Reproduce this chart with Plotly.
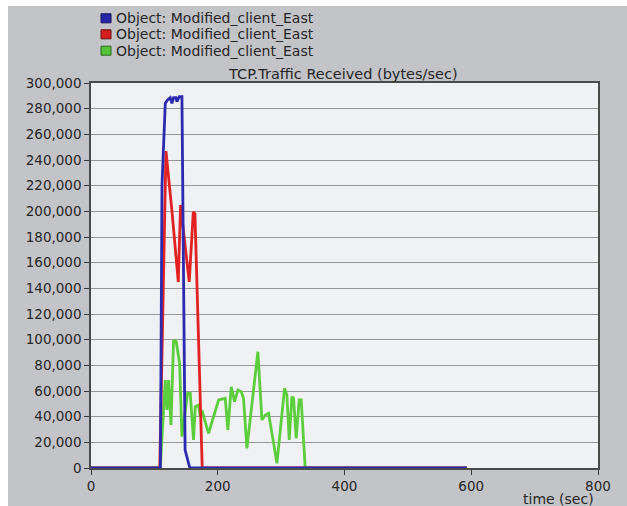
import plotly.graph_objects as go

# Throughput samples: time (sec) and TCP traffic received (bytes/sec)
blue_t = [0, 109.5, 112, 117.2, 120.8, 125, 127.7, 130.3, 134, 135.6, 139.3, 143.5, 148.5, 156, 593]
blue_v = [0, 0, 220000, 284200, 286800, 288500, 284200, 288500, 288500, 285400, 289300, 289300, 14000, 0, 0]

red_t = [0, 108.5, 118.3, 127.8, 137.7, 141.3, 155, 161.4, 164, 175.5, 593]
red_v = [0, 0, 247000, 200000, 145000, 205000, 145000, 199500, 198000, 0, 0]

green_t = [0, 109.3, 117.2, 119.9, 122.4, 126.2, 130.3, 134.5, 139.8, 143.5, 152.4, 156.6,
           161.8, 164.5, 169.7, 172.4, 175, 185.5, 201.3, 211.8, 216, 221.3, 226.5, 231.9,
           237, 240.7, 246, 263.3, 269.7, 275, 280.2, 293.4, 305.4, 309.1, 312.8, 317,
           319.6, 323.8, 328.5, 331.7, 338, 593]
green_v = [0, 0, 68600, 45200, 68600, 33500, 99700, 98400, 81600, 24400, 58200, 58200,
           21800, 47800, 49000, 40000, 45000, 27000, 53000, 54300, 29600, 63300, 51700, 60800,
           59500, 54300, 15300, 90600, 37400, 41300, 42600, 3700, 62100, 56900, 21800, 55600,
           54300, 23100, 53000, 53000, 0, 0]

series_names = ["Object: Modified_client_East"] * 3
series_colors = ["#2b2bb0", "#e02222", "#5ccd3c"]
legend_fill = ["#2626a8", "#d41f1f", "#55c23c"]
legend_edge = ["#10105a", "#6a0f0f", "#2a6a1c"]

x_ticks = [0, 200, 400, 600, 800]
chart_title = "TCP.Traffic Received (bytes/sec)"
x_title = "time (sec)"

W, H = 627, 506
L, R, T, B = 91, 29, 83, 38
PW, PH = W - L - R, H - T - B


def px(xp):
    return (xp - L) / PW


def py(yp):
    return (H - B - yp) / PH


FONT = "DejaVu Sans"
TXT = "#262626"

fig = go.Figure()
# green first, blue last so the blue baseline sits on top
for t, v, c, n in [(green_t, green_v, series_colors[2], series_names[2]),
                   (red_t, red_v, series_colors[1], series_names[1]),
                   (blue_t, blue_v, series_colors[0], series_names[0])]:
    fig.add_trace(go.Scatter(x=t, y=v, mode="lines", name=n,
                             line=dict(color=c, width=2.8), showlegend=False))

shapes = [
    # white strips along the top and left edges
    dict(type="rect", xref="paper", yref="paper", x0=px(0), x1=px(W), y0=py(0), y1=py(6),
         fillcolor="white", line=dict(width=0), layer="below"),
    dict(type="rect", xref="paper", yref="paper", x0=px(0), x1=px(8), y0=py(0), y1=py(H),
         fillcolor="white", line=dict(width=0), layer="below"),
]
annotations = []
rows = [18.3, 34.3, 50.7]
for i, yc in enumerate(rows):
    shapes.append(dict(type="rect", xref="paper", yref="paper",
                       x0=px(101), x1=px(111), y0=py(yc - 4.5), y1=py(yc + 4.5),
                       fillcolor=legend_fill[i], line=dict(color=legend_edge[i], width=1)))
    annotations.append(dict(x=px(114), y=py(yc), xref="paper", yref="paper",
                            text=series_names[i], showarrow=False, xanchor="left",
                            yanchor="middle", font=dict(family=FONT, size=14, color=TXT)))

annotations.append(dict(x=px(343), y=py(74), xref="paper", yref="paper", text=chart_title,
                        showarrow=False, xanchor="center", yanchor="middle",
                        font=dict(family=FONT, size=14.5, color=TXT)))
annotations.append(dict(x=px(558), y=py(499), xref="paper", yref="paper", text=x_title,
                        showarrow=False, xanchor="center", yanchor="middle",
                        font=dict(family=FONT, size=14, color=TXT)))

fig.update_layout(
    width=W, height=H,
    margin=dict(l=L, r=R, t=T, b=B, pad=0),
    paper_bgcolor="#c3c4c8",
    plot_bgcolor="#f0f1f4",
    shapes=shapes,
    annotations=annotations,
    showlegend=False,
    xaxis=dict(range=[0, 800], tickvals=x_ticks, showgrid=False, zeroline=False,
               showline=True, mirror=True, linecolor="#4a4a4a", linewidth=1.5,
               ticks="outside", ticklen=5, tickcolor="#3a3a3a",
               tickfont=dict(family=FONT, size=13.5, color=TXT)),
    yaxis=dict(range=[0, 300000], dtick=20000, tickformat=",d", showgrid=True,
               gridcolor="#959595", gridwidth=1, zeroline=False,
               showline=True, mirror=True, linecolor="#4a4a4a", linewidth=1.5,
               ticks="outside", ticklen=5, tickcolor="#3a3a3a",
               tickfont=dict(family=FONT, size=13.5, color=TXT)),
)

fig.write_html("out.html")
